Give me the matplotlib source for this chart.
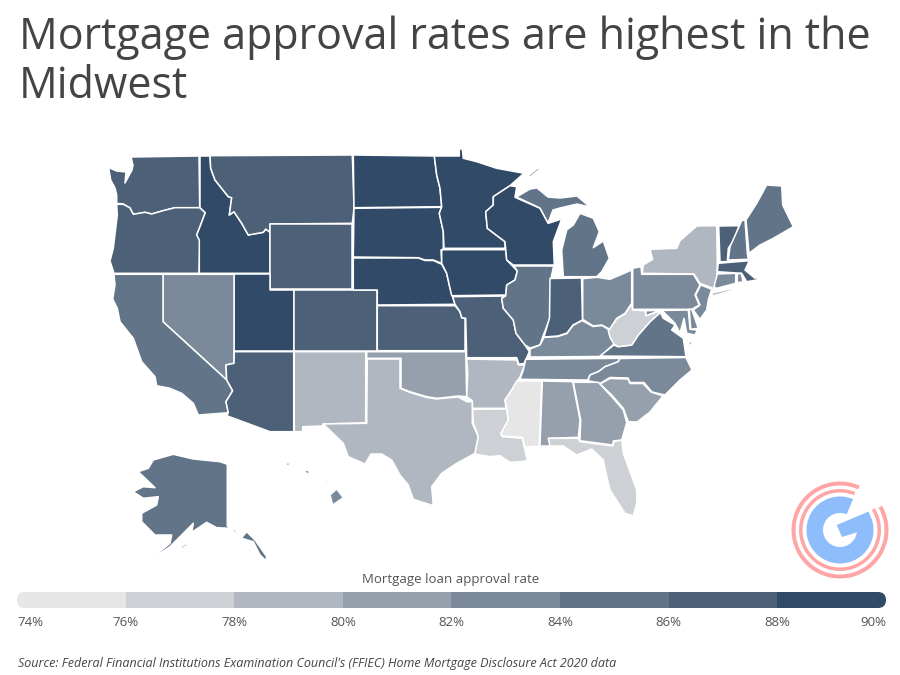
import matplotlib
matplotlib.use("Agg")
import matplotlib.pyplot as plt
from matplotlib.collections import PolyCollection
from matplotlib.colors import BoundaryNorm, ListedColormap
from matplotlib.patches import FancyBboxPatch, Polygon, Wedge

plt.rcParams['font.family'] = ['Open Sans', 'DejaVu Sans']

title = "Mortgage approval rates are highest in the\nMidwest"
legend_title = "Mortgage loan approval rate"
source = "Source: Federal Financial Institutions Examination Council's (FFIEC) Home Mortgage Disclosure Act 2020 data"

bin_edges = [74, 76, 78, 80, 82, 84, 86, 88, 90]
bin_colors = ['#e6e6e6', '#cdd0d5', '#b0b7c0', '#96a0ad', '#7b8a9a', '#627488', '#4c6077', '#304a67']

# approval rate per state
rates = {
    'WA': 87, 'OR': 87, 'CA': 85, 'NV': 83, 'ID': 89, 'MT': 87, 'WY': 87, 'UT': 89, 'CO': 87, 'AZ': 87,
    'NM': 79, 'ND': 89, 'SD': 89, 'NE': 89, 'KS': 87, 'OK': 81, 'TX': 79, 'MN': 89, 'IA': 89, 'MO': 87,
    'AR': 79, 'LA': 77, 'WI': 89, 'IL': 85, 'IN': 87, 'MI': 85, 'OH': 83, 'KY': 83, 'TN': 83, 'MS': 75,
    'AL': 81, 'GA': 81, 'FL': 77, 'SC': 81, 'NC': 83, 'VA': 85, 'WV': 77, 'PA': 83, 'NY': 79, 'NJ': 83,
    'DE': 83, 'MD': 83, 'VT': 87, 'NH': 85, 'ME': 85, 'MA': 87, 'CT': 83, 'RI': 83, 'AK': 85, 'HI': 83,
}

# state outlines, in image pixels
shapes = {
    'WA': [[(131, 157), (199, 156), (199.7, 207.7), (175, 207.7), (163, 210.7), (151.7, 214), (145, 212.3), (133.3, 214.3), (130, 208), (123.3, 204), (116.7, 203.3), (116.7, 195), (115, 188), (110.7, 180), (108.7, 167.7), (116.7, 171), (126, 172), (125, 183), (132, 170), (133, 165)]],
    'OR': [[(116.7, 204.3), (123.3, 204.3), (130, 208), (133.3, 214.3), (145, 212.3), (151.7, 214), (163, 210.7), (175, 207.7), (200, 207.7), (205.3, 212.7), (200, 226.7), (196.7, 235), (200, 240), (199, 273.3), (114, 273.3), (110, 261), (113.3, 248.3), (117.3, 215)]],
    'ID': [[(200, 156), (210, 156), (210.7, 168.3), (215, 180), (228.3, 196.7), (231.7, 197.7), (229.3, 215), (234, 211.7), (241.7, 223.3), (248.3, 235), (263.3, 232.3), (265.7, 229), (270, 232.3), (270, 273.3), (199.3, 273.3), (199.3, 240), (196.7, 235), (200, 226.7), (205.3, 212.7), (200, 207.7)]],
    'MT': [[(210, 155.7), (352.3, 155), (354, 207.7), (352.3, 223.3), (270, 224), (270, 232.3), (265.7, 229), (263.3, 232.3), (248.3, 235), (241.7, 223.3), (234, 211.7), (229.3, 215), (231.7, 197.7), (228.3, 196.7), (215, 180), (210.7, 168.3)]],
    'WY': [[(270, 224), (352.3, 224), (352.3, 289.3), (270, 289.3)]],
    'UT': [[(234.3, 274.3), (270, 274.3), (270, 290), (293.7, 290), (293.7, 350.7), (234.3, 350.7)]],
    'CO': [[(293.7, 290), (376.7, 290), (376.7, 350.7), (293.7, 350.7)]],
    'NV': [[(163, 274.3), (234, 274.3), (234, 363.3), (226, 365), (226.7, 380), (163, 321.7)]],
    'CA': [[(114, 274.3), (163, 274.3), (163, 321.7), (226.7, 380), (232.7, 390.7), (226, 401.7), (228.3, 412.7), (198.3, 415), (193.3, 403.3), (181.7, 393.3), (170, 388.3), (156.7, 385.7), (155, 376.7), (141.7, 361.7), (133.3, 338.3), (120, 321.7), (117.3, 308.3), (112.7, 299), (115, 285)]],
    'AZ': [[(234.3, 351.7), (293.7, 351.7), (293.7, 431.7), (270, 431.7), (226.7, 415.7), (228.3, 412.7), (226, 401.7), (232.7, 390.7), (226.7, 380), (226, 365), (234, 363.3)]],
    'NM': [[(294.3, 351.7), (365.7, 351.7), (365.7, 422.7), (322.7, 424), (322.7, 426), (302.7, 426.7), (302.7, 431.7), (294.3, 431.7)]],
    'ND': [[(353.3, 155), (434.3, 156), (436.7, 175), (440, 188.3), (441.7, 206.7), (354, 207.7)]],
    'SD': [[(354, 208.3), (441.7, 207.3), (439.3, 213.3), (443.3, 231.7), (443.3, 249), (441, 250), (441.7, 263.3), (433.3, 260), (425, 260), (418.3, 257.7), (353.3, 257)]],
    'NE': [[(353.3, 258), (418.3, 258), (425, 260.5), (433.3, 260.5), (441.7, 264.3), (446.7, 273.3), (450, 288.3), (455, 304.3), (377.3, 305), (377.3, 290), (353.3, 290)]],
    'KS': [[(377.3, 305.7), (455, 305.7), (460, 311.7), (461.7, 317.7), (465, 318.3), (465, 350.7), (377.3, 350.7)]],
    'OK': [[(366.7, 351.7), (465.7, 351.7), (466.7, 396.7), (458.3, 396), (446.7, 397.3), (436.7, 398.3), (426.7, 396.7), (410, 391.7), (401, 388.3), (401, 358.3), (366.7, 358.3)]],
    'TX': [[(367.3, 359), (400, 359), (400, 388.3), (410, 392.5), (426.7, 397.5), (436.7, 399), (446.7, 398), (458.3, 397), (466.7, 401.7), (472.3, 401.7), (472.3, 423.3), (478.3, 436.7), (475, 453.3), (456.7, 463.3), (441.7, 473.3), (431.7, 486.7), (433.3, 505.7), (413.3, 499.3), (408.3, 485), (400, 475), (391.7, 460), (381.7, 454), (371, 454), (365, 464), (348.3, 456.7), (343.3, 443.3), (323.3, 424), (366.7, 423.3)]],
    'MN': [[(434.3, 156), (459.3, 156), (459.3, 149), (462.3, 149), (463.3, 158.3), (476.7, 161.7), (496.7, 168.3), (524, 173.3), (510, 185.7), (493.3, 196.7), (493.3, 205), (485.7, 211.7), (487.3, 228.3), (505, 241.7), (505, 248.3), (444, 248.3), (443.3, 231.7), (439.3, 213.3), (441.7, 206.7), (440, 188.3), (436.7, 175)]],
    'IA': [[(441.7, 249.7), (505.7, 249.7), (506.7, 260), (517.3, 271), (515, 280), (506.7, 285), (505.7, 295), (451.7, 295.7), (446.7, 273.3), (441.7, 263.3)]],
    'MO': [[(452.7, 296.7), (505.7, 296), (501.7, 298.3), (503.3, 308.3), (513.3, 320), (516, 333.3), (525, 345), (529.3, 351.7), (524.3, 363.3), (519, 364.3), (516.7, 357.7), (466.7, 357.7), (465.7, 318.3), (461.7, 317.7), (460, 311.7), (455, 304.3)]],
    'AR': [[(466.7, 359), (516.7, 360), (518.3, 365), (525, 365), (520, 376.7), (511.7, 390), (505, 400), (506, 408.3), (472.7, 408.3), (472.3, 400.7), (466.7, 396.7), (467.7, 373.3)]],
    'LA': [[(472.7, 409.3), (506.7, 409), (508.3, 420), (500.7, 434), (502.3, 436.7), (522.3, 438.3), (524.3, 447.3), (527.3, 460.7), (520, 461.7), (510, 462.3), (500, 455.7), (490, 456.7), (475, 454), (478.3, 436.7), (473.3, 423.3)]],
    'WI': [[(516.7, 186.7), (515, 197.3), (540, 208.3), (548.3, 223.3), (561.7, 219), (553.3, 241.7), (554.3, 265), (513.3, 265), (506.7, 260), (505.7, 249), (505, 241.7), (487.3, 228.3), (485.7, 211.7), (493.3, 205), (493.3, 196.7), (510, 185.7)]],
    'IL': [[(514, 266), (553.7, 266), (551, 278), (550, 318), (543, 336), (540, 345), (530, 348), (525, 345), (516, 333.3), (513.3, 320), (503.3, 308.3), (501.7, 298.3), (505.7, 296), (506.7, 285), (515, 280), (517.3, 271)]],
    'IN': [[(550, 278.5), (581.5, 278), (582.5, 320), (573, 325), (567, 333), (558, 336), (544, 337), (549.5, 318)]],
    'MI': [[(563.3, 276.7), (561.7, 250), (566.7, 230), (573.3, 225), (580, 213.3), (593.3, 218.3), (599.3, 231.7), (593.3, 247.7), (603.3, 241), (609.3, 258.3), (601.7, 271.7), (596.7, 276.7)],
           [(516.5, 197), (530, 189), (537, 188), (548, 197), (560, 198), (577, 196), (590, 207), (577, 204), (560, 208), (553, 210), (548, 223), (540, 208)],
           [(528, 176), (538, 168), (540, 169), (530, 177)],
           [(539, 186), (545, 182), (546, 183), (540, 187)]],
    'OH': [[(582.7, 278.7), (596.7, 277.3), (603.3, 278.3), (610, 279.3), (631.7, 270), (631.7, 303.3), (625, 313.3), (616.7, 318.3), (610, 329.3), (601.7, 325), (593.3, 326), (582.7, 319.3)]],
    'KY': [[(530, 357), (530, 349), (540, 345), (544, 337.5), (558, 336.5), (567, 333.5), (573, 325.5), (582, 320.5), (593, 326.5), (602, 325.5), (609, 330), (610, 337), (614, 344), (600, 356.5)]],
    'TN': [[(520, 379.3), (523.3, 370), (525.7, 359.3), (620, 358.3), (618.3, 361.7), (605, 366.7), (598.3, 371.7), (590, 375), (587.7, 380)]],
    'VA': [[(600, 356), (614, 345), (618, 346.7), (631.7, 345), (638.3, 335), (650, 321.7), (660, 311.7), (663.3, 318.3), (675, 325), (671.7, 330), (683.3, 338.3), (686, 356.7)],
           [(688, 345), (693, 337), (691, 345)]],
    'WV': [[(608.3, 331), (616.7, 319), (625, 314), (631.7, 304), (632.7, 310), (645, 310.7), (646, 315.7), (658.3, 311.7), (660, 313), (650, 321.7), (638.3, 335), (631.7, 345), (618.3, 346.7), (614, 344), (610, 337)]],
    'PA': [[(632.7, 268.3), (641, 266.7), (641.7, 274.3), (693.3, 274.3), (700, 285), (695, 295), (699.3, 305), (691.7, 309.3), (632.7, 309.3)]],
    'NY': [[(642.3, 273.3), (643.3, 265), (652.7, 259.3), (650, 249.3), (676.7, 248.3), (680, 240.7), (696.7, 226), (716.7, 225.7), (717.3, 263.3), (716.7, 283.3), (713.3, 288.3), (700, 283.3), (694, 274)],
           [(712, 293), (732, 288.5), (733, 290), (713, 296)]],
    'NJ': [[(700.7, 285), (711.7, 289.3), (708.3, 300), (706.7, 310), (700, 319.3), (693.3, 310), (700, 305), (695.7, 295)]],
    'DE': [[(689.3, 309.3), (691.7, 309.3), (698.3, 328.3), (690.7, 329.3)]],
    'MD': [[(646, 310.7), (688.3, 310), (690, 329.3), (697.3, 330), (695, 335), (686.7, 333.3), (684, 318.3), (680, 333), (675, 323.3), (663.3, 311.7), (658.3, 311), (646, 315.7)]],
    'VT': [[(718.7, 226), (739, 225.7), (735, 238.3), (728.3, 248.3), (727.3, 261.7), (720, 261.7)]],
    'NH': [[(741.7, 220.7), (745, 220), (747.3, 253.3), (748.3, 259.3), (728.3, 260), (730, 246.7), (739, 226.7)]],
    'ME': [[(746, 220), (756.7, 203.3), (766.7, 185), (781.7, 186), (782.7, 205), (793.3, 226.7), (773.3, 238.3), (760, 245), (749, 253.3)]],
    'MA': [[(718.3, 263.3), (749.3, 260.7), (745, 270), (755, 278.3), (758.3, 275), (756.7, 280), (746.7, 281.7), (741.7, 273.3), (717.3, 271.7)]],
    'CT': [[(717.3, 274), (735.7, 273.3), (735.7, 283.3), (716.7, 288.3), (714, 286.7)]],
    'RI': [[(737.3, 274), (741, 273.3), (743.3, 281.7), (737.3, 282.7)]],
    'NC': [[(620, 358.5), (686, 357.5), (692, 370), (680, 380), (665, 395), (652, 392), (644, 382.5), (630, 382.5), (628, 378), (610, 377.5), (600, 383.5), (588, 380.5), (590, 375), (598.3, 371.7), (605, 366.7), (618.3, 361.7)]],
    'SC': [[(600, 384), (610, 378.5), (628, 379), (630, 383.5), (643, 383.5), (651, 392), (663, 396), (650, 412), (637, 422), (628.3, 421.7), (623.3, 408.3), (611.7, 395)]],
    'GA': [[(573.3, 382.3), (598.3, 382.3), (611.7, 396.7), (623.3, 410), (626.7, 422.7), (621.7, 440), (613.3, 441), (612.7, 445), (580, 440.7), (580.7, 420)]],
    'AL': [[(542.3, 381), (572.7, 381.7), (580, 420), (578.3, 437.3), (549.3, 438.3), (550, 446), (540, 446)]],
    'MS': [[(516.7, 381), (541.7, 381), (539.3, 446), (525, 447.3), (522.3, 437.3), (502.3, 436), (501, 433.3), (508.3, 420), (506.7, 408.3), (505, 400), (511.7, 390)]],
    'FL': [[(548.3, 438.3), (578.3, 438.3), (580, 441.7), (612.7, 446), (614, 441.7), (621.7, 440), (623.3, 453.3), (636.7, 490), (636.7, 503.3), (633.3, 516), (625, 513.3), (610, 490), (606, 473.3), (603.3, 460), (591.7, 449), (576.7, 455), (563.3, 446), (550, 446)]],
    'AK': [[(227.3, 464.3), (227.3, 526), (235, 530), (241.7, 537.7), (246.7, 531.7), (255, 540), (266.7, 556.7), (266, 560.7), (260, 555), (253.3, 541.7), (241.7, 538.3), (230, 528.3), (216.7, 527.7), (206.7, 522.3), (191.7, 532.3), (193.3, 523.3), (183.3, 533.3), (170, 546.7), (145, 563.3), (170, 543.3), (171.7, 535), (155, 535), (141.7, 521.7), (141.7, 513.3), (156.7, 505), (158.3, 496.7), (143.3, 498.3), (133.3, 491.7), (143.3, 486.7), (155, 487.7), (138.3, 471.7), (148.3, 468.3), (153.3, 460), (173.3, 454.3), (193.3, 459), (220, 461.7)],
           [(180.7, 547), (187.3, 543), (187.5, 545), (182, 548.5)],
           [(136.5, 528), (140, 527), (139.5, 529)],
           [(119, 505), (122, 504.5), (126, 507), (122, 506)]],
    'HI': [[(330, 495), (336.7, 489), (343.3, 497.7), (332.7, 505)],
           [(323.3, 480), (328.3, 481.7), (326.7, 483.7)],
           [(316, 475), (319.5, 476), (316.5, 476)],
           [(304, 471), (308.3, 470), (310, 474.3), (306, 473)],
           [(286, 463.3), (289.3, 462.3), (289.3, 465.7), (287, 465.5)]],
}

verts = []
values = []
for state, parts in shapes.items():
    for part in parts:
        verts.append(part)
        values.append(rates[state])

cmap = ListedColormap(bin_colors)
norm = BoundaryNorm(bin_edges, cmap.N)

fig = plt.figure(figsize=(9, 6.75), dpi=100)
ax = fig.add_axes([0, 0, 1, 1])
ax.set_xlim(0, 900)
ax.set_ylim(675, 0)
ax.axis('off')

states = PolyCollection(verts, array=values, cmap=cmap, norm=norm, edgecolors='white', linewidths=1.1)
ax.add_collection(states)

ax.text(19, 62, title, fontsize=31, color='#444444', va='center', ha='left', linespacing=1.12)
ax.text(451, 579, legend_title, fontsize=9.5, color='#555555', ha='center', va='center')
ax.text(18, 664, source, fontsize=9, color='#444444', style='italic', ha='left', va='center')

# logo
logo_x, logo_y = 840, 530
red = '#ffa5a5'
blue = '#8fbcfb'
# y axis is flipped, so angles run the other way round
ax.add_patch(Wedge((logo_x, logo_y), 48.5, -30, 294, width=4, facecolor=red, edgecolor='none'))
ax.add_patch(Wedge((logo_x, logo_y), 41, -32, 292, width=3.5, facecolor=red, edgecolor='none'))
ax.add_patch(Wedge((logo_x, logo_y), 33.5, -33, 293, width=16.5, facecolor=blue, edgecolor='none'))
ax.add_patch(Polygon([(836.7, 525), (868.3, 511.7), (873, 530), (858, 532), (842, 537)], facecolor=blue, edgecolor='none'))

# legend bar
leg = fig.add_axes([17 / 900, 1 - 608 / 675, 869 / 900, 16 / 675])
leg.bar(bin_edges[:-1], [1] * len(bin_colors), width=2, align='edge', color=bin_colors)
leg.set_xlim(bin_edges[0], bin_edges[-1])
leg.set_ylim(0, 1)
leg.set_yticks([])
leg.set_xticks(bin_edges)
tick_labels = leg.set_xticklabels([f"{v}%" for v in bin_edges], fontsize=9.5, color='#555555')
tick_labels[0].set_ha('left')
tick_labels[-1].set_ha('right')
leg.tick_params(axis='x', length=0, pad=6)
for spine in leg.spines.values():
    spine.set_visible(False)
clip = FancyBboxPatch((17, 592), 869, 16, boxstyle="round,pad=0,rounding_size=8", transform=ax.transData, facecolor='none', edgecolor='none')
ax.add_patch(clip)
for bar in leg.patches:
    bar.set_clip_path(clip)

fig.savefig("out.png", dpi=100)
